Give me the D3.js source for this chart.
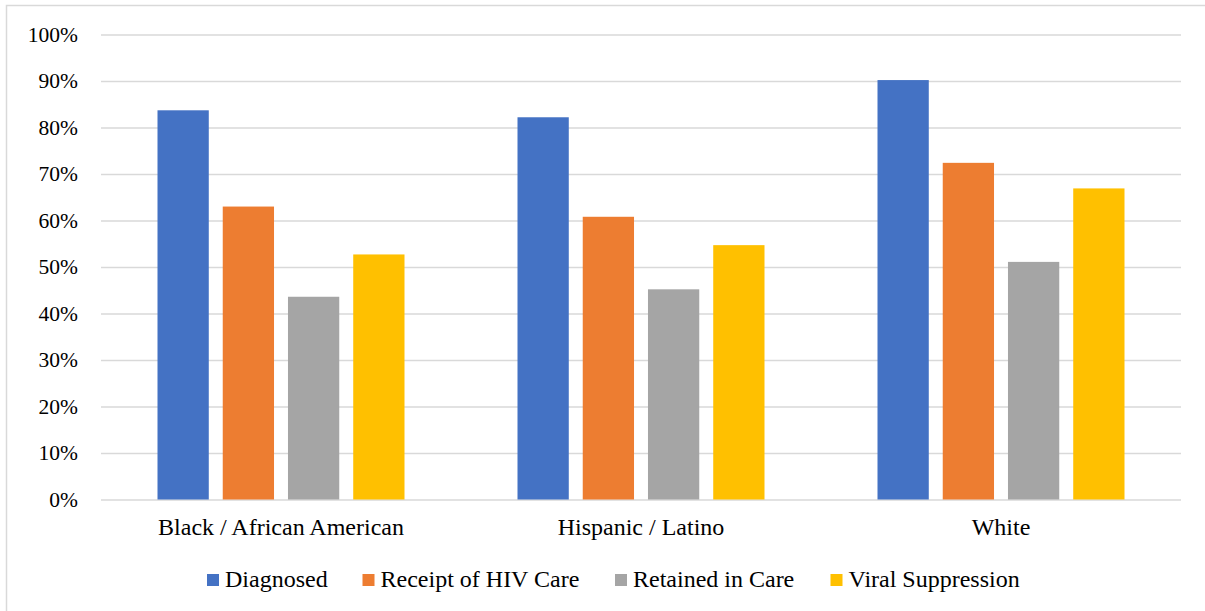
<!DOCTYPE html>
<html>
<head>
<meta charset="utf-8">
<script src="https://cdn.jsdelivr.net/npm/d3@7"></script>
</head>
<body style="margin:0;background:#fff">
<svg id="continuum" width="1205" height="611" font-family="Liberation Serif"></svg>
<script>
// HIV care continuum by race / ethnicity (percent)
const categories = ["Black / African American", "Hispanic / Latino", "White"];
const seriesNames = ["Diagnosed", "Receipt of HIV Care", "Retained in Care", "Viral Suppression"];
const diagnosed = [83.7, 82.2, 90.2];
const receiptOfCare = [63.0, 60.8, 72.4];
const retainedInCare = [43.6, 45.2, 51.1];
const viralSuppression = [52.7, 54.7, 66.9];
const yTicks = [0, 10, 20, 30, 40, 50, 60, 70, 80, 90, 100];
const colors = ["#4472C4", "#ED7D31", "#A5A5A5", "#FFC000"];

const FONT = "'Liberation Serif', serif";

const seriesValues = [diagnosed, receiptOfCare, retainedInCare, viralSuppression];
const rows = categories.map((c, i) => ({
  category: c,
  values: seriesNames.map((s, j) => ({ series: s, value: seriesValues[j][i] }))
}));

const svg = d3.select("#continuum");
const plot = { left: 101, right: 1181, top: 34.5, bottom: 499.5 };

// serif text throughout
const serif = sel => sel
  .attr("font-family", "Liberation Serif")
  .style("font-family", FONT, "important");

// outer frame
svg.append("rect")
  .attr("x", 6.5).attr("y", 5.5)
  .attr("width", 1220).attr("height", 640)
  .attr("fill", "none").attr("stroke", "#d9d9d9").attr("stroke-width", 1.5);

const y = d3.scaleLinear().domain([0, 100]).range([plot.bottom, plot.top]);
const x0 = d3.scaleBand().domain(categories).range([plot.left, plot.right]).padding(0);
const groupInset = (x0.bandwidth() - 247) / 2;
const x1 = d3.scaleBand().domain(seriesNames)
  .range([groupInset, x0.bandwidth() - groupInset])
  .paddingInner(0.214).paddingOuter(0);
const color = d3.scaleOrdinal().domain(seriesNames).range(colors);

// gridlines + y tick labels
const yAxis = d3.axisLeft(y)
  .tickValues(yTicks)
  .tickSize(-(plot.right - plot.left))
  .tickPadding(23)
  .tickFormat(d => d + "%");
const gy = svg.append("g").attr("transform", `translate(${plot.left},0)`).call(yAxis);
serif(gy);
gy.select(".domain").remove();
gy.selectAll(".tick line").attr("stroke", "#d9d9d9").attr("stroke-width", 1.5);
gy.selectAll(".tick text")
  .call(serif)
  .attr("font-size", 21.5)
  .attr("fill", "#000");

// bars
const groups = svg.append("g").selectAll("g")
  .data(rows).join("g")
  .attr("transform", d => `translate(${x0(d.category)},0)`);
groups.selectAll("rect")
  .data(d => d.values).join("rect")
  .attr("x", d => x1(d.series))
  .attr("width", x1.bandwidth())
  .attr("y", d => y(d.value))
  .attr("height", d => y(0) - y(d.value))
  .attr("fill", d => color(d.series));

// category labels
const xAxis = d3.axisBottom(x0).tickSize(0).tickPadding(18);
const gx = svg.append("g").attr("transform", `translate(0,${plot.bottom})`).call(xAxis);
serif(gx);
gx.select(".domain").remove();
gx.selectAll(".tick text")
  .call(serif)
  .attr("font-size", 24)
  .attr("fill", "#000");

// legend
const legendX = [207, 362.5, 615, 830.5];
const legend = svg.append("g").selectAll("g")
  .data(seriesNames).join("g")
  .attr("transform", (d, i) => `translate(${legendX[i]},574)`);
legend.append("rect")
  .attr("width", 12).attr("height", 12)
  .attr("fill", d => color(d));
legend.append("text")
  .attr("x", 18).attr("y", 12.8)
  .call(serif)
  .attr("font-size", 24)
  .attr("fill", "#000")
  .text(d => d);
</script>
</body>
</html>
